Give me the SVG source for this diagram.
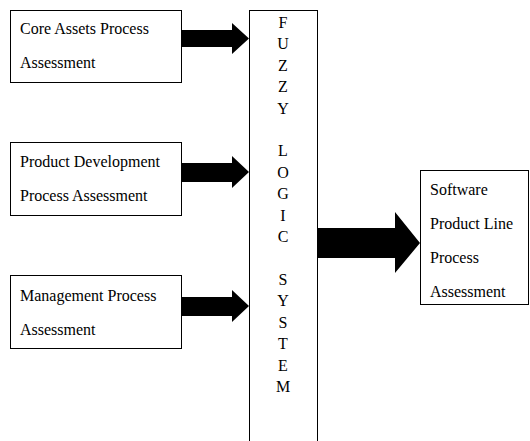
<svg xmlns="http://www.w3.org/2000/svg" width="530" height="441" viewBox="0 0 530 441">
  <style>
    .box { fill: #fff; stroke: #000; stroke-width: 1; }
    .lbl { font-family: "Liberation Serif", "Times New Roman", serif; font-size: 16px; fill: #000; }
    .ltr { font-family: "Liberation Serif", "Times New Roman", serif; font-size: 16px; fill: #000; text-anchor: middle; }
    .arrow { fill: #000; stroke: none; }
  </style>
  <rect width="530" height="441" fill="#fff"/>

  <g id="core-assets">
    <rect class="box" x="10.5" y="10.5" width="171" height="72"/>
    <text class="lbl" x="20" y="34">Core Assets Process</text>
    <text class="lbl" x="20" y="68">Assessment</text>
  </g>

  <g id="product-development">
    <rect class="box" x="10.5" y="142.5" width="171" height="73"/>
    <text class="lbl" x="20" y="167">Product Development</text>
    <text class="lbl" x="20" y="201">Process Assessment</text>
  </g>

  <g id="management">
    <rect class="box" x="10.5" y="275.5" width="171" height="73"/>
    <text class="lbl" x="20" y="301">Management Process</text>
    <text class="lbl" x="20" y="335">Assessment</text>
  </g>

  <g id="fuzzy-logic-system">
    <rect class="box" x="249.5" y="10.5" width="68" height="440"/>
    <text class="ltr" x="283" y="28">F</text>
    <text class="ltr" x="283" y="49">U</text>
    <text class="ltr" x="283" y="71">Z</text>
    <text class="ltr" x="283" y="92">Z</text>
    <text class="ltr" x="283" y="114">Y</text>
    <text class="ltr" x="283" y="156">L</text>
    <text class="ltr" x="283" y="178">O</text>
    <text class="ltr" x="283" y="199">G</text>
    <text class="ltr" x="283" y="221">I</text>
    <text class="ltr" x="283" y="242">C</text>
    <text class="ltr" x="283" y="285">S</text>
    <text class="ltr" x="283" y="306">Y</text>
    <text class="ltr" x="283" y="328">S</text>
    <text class="ltr" x="283" y="349">T</text>
    <text class="ltr" x="283" y="371">E</text>
    <text class="ltr" x="283" y="392">M</text>
  </g>

  <g id="spl-assessment">
    <rect class="box" x="420.5" y="170.5" width="108" height="134"/>
    <text class="lbl" x="430" y="195">Software</text>
    <text class="lbl" x="430" y="229">Product Line</text>
    <text class="lbl" x="430" y="263">Process</text>
    <text class="lbl" x="430" y="297">Assessment</text>
  </g>

  <g id="connectors">
    <polygon class="arrow" points="181,30 232,30 232,23 249,38.5 232,54 232,47 181,47"/>
    <polygon class="arrow" points="181,163 232,163 232,156 249,172 232,188 232,182 181,182"/>
    <polygon class="arrow" points="181,297 232,297 232,290 249,306 232,322 232,316 181,316"/>
    <polygon class="arrow" points="318,228 395,228 395,212 420,243 395,273 395,258 318,258"/>
  </g>
</svg>
